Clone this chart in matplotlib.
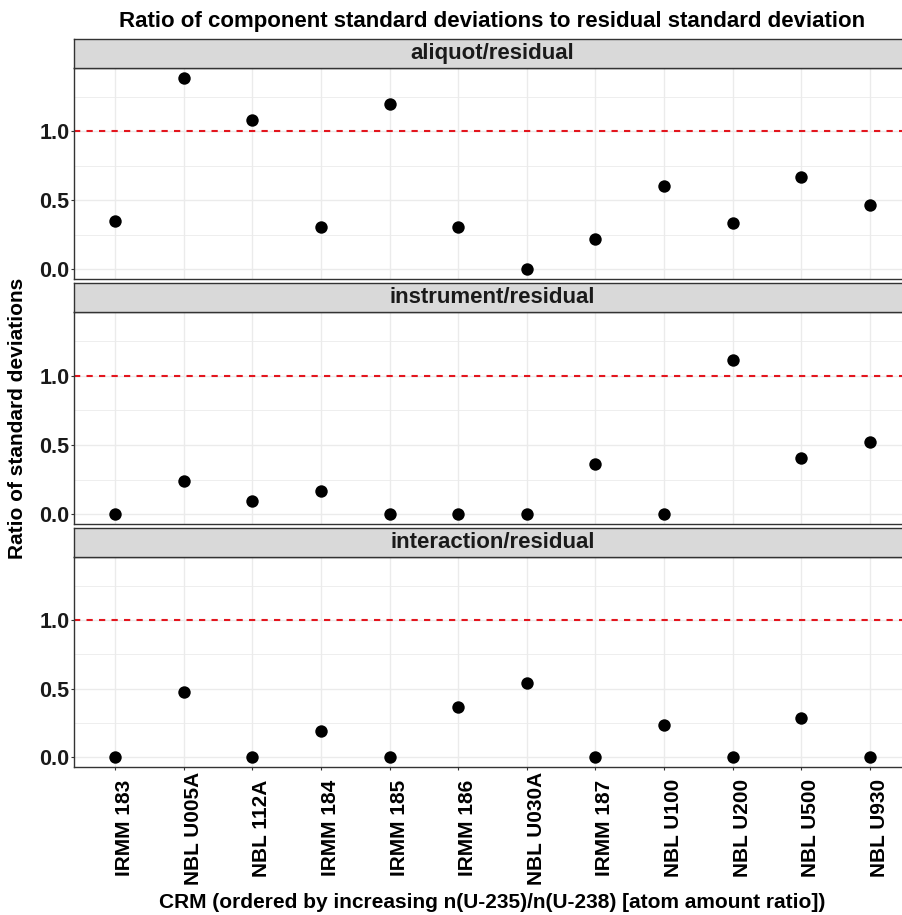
import matplotlib
matplotlib.use("Agg")
import matplotlib.pyplot as plt
from matplotlib.ticker import MultipleLocator

plt.rcParams['font.family'] = ['Liberation Sans', 'DejaVu Sans']
plt.rcParams['font.weight'] = 'bold'

# CRMs ordered by increasing n(U-235)/n(U-238)
crm = ['IRMM 183', 'NBL U005A', 'NBL 112A', 'IRMM 184', 'IRMM 185', 'IRMM 186',
       'NBL U030A', 'IRMM 187', 'NBL U100', 'NBL U200', 'NBL U500', 'NBL U930']
facets = ['aliquot/residual', 'instrument/residual', 'interaction/residual']

aliquot = [0.354, 1.39, 1.08, 0.31, 1.20, 0.306, 0.0, 0.22, 0.605, 0.333, 0.67, 0.468]
instrument = [0.0, 0.242, 0.096, 0.17, 0.0, 0.0, 0.0, 0.36, 0.0, 1.11, 0.41, 0.52]
interaction = [0.0, 0.477, 0.0, 0.19, 0.0, 0.369, 0.542, 0.0, 0.234, 0.0, 0.287, 0.0]
series = [aliquot, instrument, interaction]

W, H = 902, 915
fig = plt.figure(figsize=(W / 100, H / 100), dpi=100)

# panel boxes in pixels: (top, bottom) ; strips sit right above each panel
left_px, right_px = 74, 911
panels_px = [(68, 279), (312, 524), (557, 767)]
strip_h = 29

ymax = max(max(s) for s in series)
ylo, yhi = -0.05 * ymax, ymax * 1.05
xpos = list(range(1, len(crm) + 1))

edge = '#333333'
grid = '#EBEBEB'

axes = []
for k, (top, bot) in enumerate(panels_px):
    ax = fig.add_axes([left_px / W, 1 - bot / H, (right_px - left_px) / W, (bot - top) / H])
    ax.set_xlim(0.4, len(crm) + 0.6)
    ax.set_ylim(ylo, yhi)
    ax.yaxis.set_major_locator(MultipleLocator(0.5))
    ax.yaxis.set_minor_locator(MultipleLocator(0.25))
    ax.set_xticks(xpos)
    ax.grid(True, which='major', color=grid, lw=1.0, zorder=0)
    ax.grid(True, which='minor', axis='y', color=grid, lw=0.6, zorder=0)
    ax.set_axisbelow(True)
    ax.axhline(1.0, color='#E3161E', lw=1.5, ls=(0, (3, 3)), zorder=2)
    ax.scatter(xpos, series[k], s=80, color='black', zorder=3, linewidths=0)
    for sp in ax.spines.values():
        sp.set_color(edge)
        sp.set_linewidth(1.0)
    ax.tick_params(axis='y', which='major', length=2.5, width=0.8, color=edge,
                   labelsize=15.5, pad=0.8, labelcolor='#1a1a1a')
    ax.tick_params(axis='y', which='minor', length=0)
    ax.set_yticks([0.0, 0.5, 1.0])
    ax.set_yticklabels(['0.0', '0.5', '1.0'])
    if k < 2:
        ax.tick_params(axis='x', length=0, labelbottom=False)
    else:
        ax.tick_params(axis='x', length=2.5, width=0.8, color=edge, labelsize=15, pad=41.5)
        ax.set_xticklabels(crm, rotation=90)
        for lab in ax.get_xticklabels():
            lab.set_va('center')
            lab.set_ha('left')
    axes.append(ax)

    # facet strip
    sax = fig.add_axes([left_px / W, 1 - top / H, (right_px - left_px) / W, strip_h / H])
    sax.set_facecolor('#D9D9D9')
    sax.set_xticks([])
    sax.set_yticks([])
    for sp in sax.spines.values():
        sp.set_color(edge)
        sp.set_linewidth(1.0)
    sax.text(0.5, 0.5, facets[k], transform=sax.transAxes, ha='center', va='center',
             fontsize=16, fontweight='bold', color='#1a1a1a')

fig.text(492 / W, 1 - 22 / H, 'Ratio of component standard deviations to residual standard deviation',
         ha='center', va='center', fontsize=16, fontweight='bold')
fig.text(18 / W, 1 - 418 / H, 'Ratio of standard deviations', rotation=90,
         ha='center', va='center', fontsize=15, fontweight='bold')
fig.text(492 / W, 1 - 903 / H, 'CRM (ordered by increasing n(U-235)/n(U-238) [atom amount ratio])',
         ha='center', va='center', fontsize=15, fontweight='bold')

fig.savefig('out.png', dpi=100)
